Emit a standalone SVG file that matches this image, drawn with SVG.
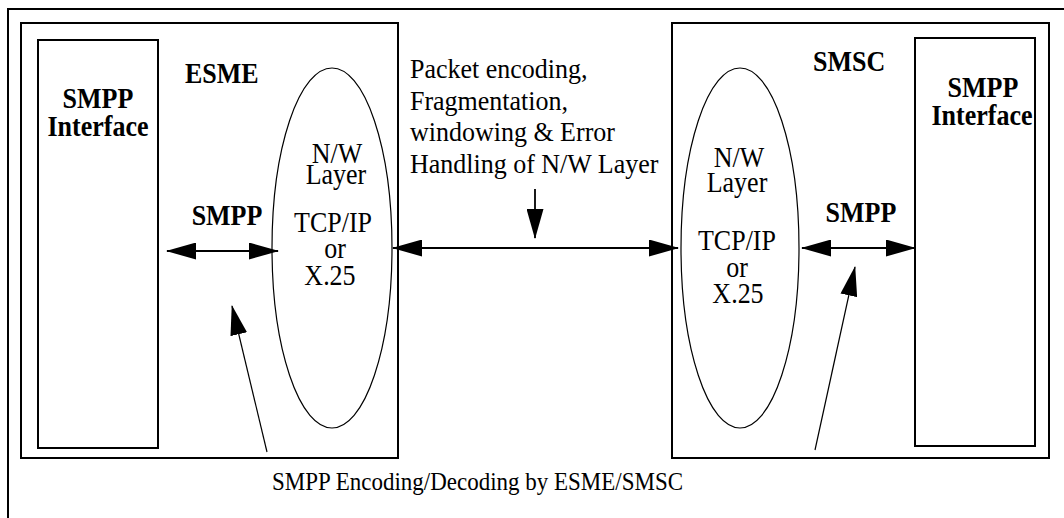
<svg xmlns="http://www.w3.org/2000/svg" width="1064" height="518" viewBox="0 0 1064 518">
<style>
  .frame{fill:none;stroke:#000;stroke-width:2}
  .box{fill:none;stroke:#000;stroke-width:2}
  .oval{fill:none;stroke:#000;stroke-width:1.2}
  .t{font-family:"Liberation Serif","Times New Roman",serif;font-size:26px;fill:#000}
  .b{font-family:"Liberation Serif","Times New Roman",serif;font-size:26px;font-weight:bold;fill:#000}
  .c{text-anchor:middle}
  .arr{fill:none;stroke:#000;stroke-width:1.8}
  .thin{fill:none;stroke:#000;stroke-width:1.2}
</style>
<defs>
  <marker id="ah" markerUnits="userSpaceOnUse" markerWidth="30" markerHeight="17" refX="29" refY="8.5" orient="auto-start-reverse" viewBox="0 0 30 17">
    <path d="M0,0 L30,8.5 L0,17 Z" fill="#000"/>
  </marker>
</defs>
<rect width="1064" height="518" fill="#fff"/>
<path class="frame" d="M8,518 V9 H1064"/>

<g id="esme">
  <rect class="box" x="21" y="23" width="377" height="435"/>
  <text class="b" transform="scale(1,1.15)" x="185" y="72.2">ESME</text>
</g>
<g id="esme-interface">
  <rect class="box" x="38" y="40" width="120" height="408"/>
  <text class="b c" transform="scale(1,1.15)"><tspan x="98" y="93.9">SMPP</tspan><tspan x="98" y="118.3">Interface</tspan></text>
</g>
<g id="esme-nw">
  <ellipse class="oval" cx="332" cy="248" rx="60" ry="180"/>
  <text class="t c" transform="scale(1,1.15)"><tspan x="337" y="141.7">N/W</tspan><tspan x="336" y="160">Layer</tspan><tspan x="333" y="201.7">TCP/IP</tspan><tspan x="335" y="224.3">or</tspan><tspan x="330" y="247.8">X.25</tspan></text>
</g>

<g id="smsc">
  <rect class="box" x="672" y="23" width="377" height="435"/>
  <text class="b" transform="scale(1,1.15)" x="813" y="61.7">SMSC</text>
</g>
<g id="smsc-interface">
  <rect class="box" x="915" y="38" width="120" height="408"/>
  <text class="b c" transform="scale(1,1.15)"><tspan x="983" y="84.3">SMPP</tspan><tspan x="982" y="108.7">Interface</tspan></text>
</g>
<g id="smsc-nw">
  <ellipse class="oval" cx="740" cy="248" rx="59" ry="180"/>
  <text class="t c" transform="scale(1,1.15)"><tspan x="739" y="145.2">N/W</tspan><tspan x="737" y="167">Layer</tspan><tspan x="737" y="217.4">TCP/IP</tspan><tspan x="737" y="240.9">or</tspan><tspan x="738" y="263.5">X.25</tspan></text>
</g>

<g id="labels">
  <text class="t" transform="scale(1,1.05)"><tspan x="410" y="74.3">Packet encoding,</tspan><tspan x="410" y="104.8">Fragmentation,</tspan><tspan x="410" y="134.3">windowing &amp; Error</tspan><tspan x="410" y="164.8">Handling of N/W Layer</tspan></text>
  <text class="b c" transform="scale(1,1.15)" x="227" y="195.7">SMPP</text>
  <text class="b c" transform="scale(1,1.15)" x="861" y="193">SMPP</text>
  <text class="t" transform="scale(1,1.12)" x="272" y="437.5" style="font-size:23px">SMPP Encoding/Decoding by ESME/SMSC</text>
</g>

<g id="connectors">
  <line class="arr" x1="167" y1="251" x2="278" y2="251" marker-start="url(#ah)" marker-end="url(#ah)"/>
  <line class="arr" x1="393" y1="248" x2="678" y2="248" marker-start="url(#ah)" marker-end="url(#ah)"/>
  <line class="arr" x1="802" y1="248" x2="915" y2="248" marker-start="url(#ah)" marker-end="url(#ah)"/>
  <line class="arr" x1="535" y1="189" x2="535" y2="238" marker-end="url(#ah)"/>
  <line class="thin" x1="267" y1="452" x2="232" y2="306" marker-end="url(#ah)"/>
  <line class="thin" x1="815" y1="450" x2="855" y2="267" marker-end="url(#ah)"/>
</g>
</svg>
